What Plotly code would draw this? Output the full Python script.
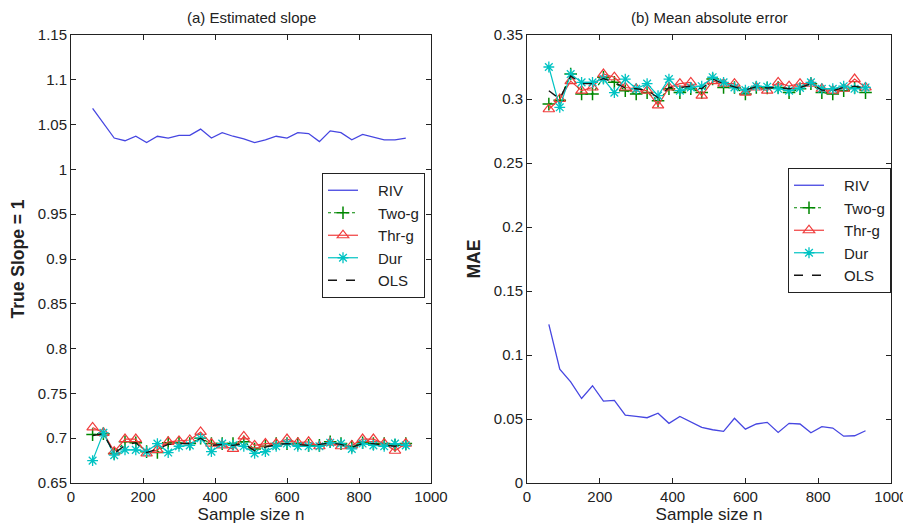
import plotly.graph_objects as go

n = [60, 90, 120, 150, 180, 210, 240, 270, 300, 330, 360, 390, 420, 450, 480,
     510, 540, 570, 600, 630, 660, 690, 720, 750, 780, 810, 840, 870, 900, 930]

# (a) Estimated slope
slope_riv = [1.068, 1.052, 1.035, 1.032, 1.037, 1.030, 1.037, 1.035, 1.038, 1.038,
             1.045, 1.035, 1.041, 1.037, 1.034, 1.030, 1.033, 1.037, 1.035, 1.041,
             1.040, 1.031, 1.043, 1.041, 1.033, 1.039, 1.036, 1.033, 1.033, 1.035]
slope_two = [0.704, 0.705, 0.683, 0.696, 0.695, 0.685, 0.684, 0.695, 0.695, 0.694,
             0.700, 0.694, 0.694, 0.694, 0.696, 0.688, 0.691, 0.694, 0.694, 0.694,
             0.692, 0.692, 0.696, 0.694, 0.691, 0.695, 0.694, 0.694, 0.692, 0.694]
slope_thr = [0.712, 0.706, 0.685, 0.699, 0.699, 0.683, 0.687, 0.696, 0.697, 0.698,
             0.707, 0.694, 0.692, 0.688, 0.702, 0.692, 0.694, 0.694, 0.699, 0.695,
             0.696, 0.691, 0.695, 0.691, 0.692, 0.699, 0.699, 0.694, 0.686, 0.694]
slope_dur = [0.675, 0.706, 0.681, 0.687, 0.687, 0.685, 0.694, 0.684, 0.691, 0.692,
             0.700, 0.685, 0.694, 0.692, 0.691, 0.683, 0.685, 0.691, 0.694, 0.691,
             0.691, 0.691, 0.695, 0.694, 0.688, 0.694, 0.692, 0.691, 0.694, 0.692]
slope_ols = [0.703, 0.705, 0.683, 0.692, 0.695, 0.684, 0.688, 0.693, 0.694, 0.694,
             0.700, 0.692, 0.693, 0.692, 0.694, 0.686, 0.690, 0.693, 0.694, 0.693,
             0.692, 0.693, 0.695, 0.693, 0.690, 0.694, 0.694, 0.692, 0.691, 0.693]

# (b) Mean absolute error
mae_riv = [0.124, 0.089, 0.079, 0.066, 0.076, 0.064, 0.0645, 0.053, 0.052, 0.051,
           0.0545, 0.0466, 0.052, 0.0474, 0.0434, 0.0416, 0.0403, 0.0506, 0.0421, 0.0461,
           0.0474, 0.0395, 0.0466, 0.0461, 0.0392, 0.044, 0.0429, 0.0366, 0.0369, 0.0408]
mae_two = [0.296, 0.299, 0.3195, 0.304, 0.304, 0.317, 0.313, 0.3065, 0.304, 0.305,
           0.2987, 0.308, 0.305, 0.308, 0.305, 0.3156, 0.309, 0.309, 0.304, 0.309,
           0.3086, 0.309, 0.305, 0.308, 0.312, 0.305, 0.304, 0.3065, 0.309, 0.305]
mae_thr = [0.292, 0.300, 0.314, 0.3065, 0.309, 0.3195, 0.317, 0.309, 0.308, 0.3065,
           0.295, 0.309, 0.312, 0.313, 0.3026, 0.314, 0.312, 0.312, 0.305, 0.309,
           0.3065, 0.313, 0.310, 0.312, 0.312, 0.308, 0.3065, 0.308, 0.3156, 0.309]
mae_dur = [0.325, 0.2935, 0.3195, 0.313, 0.313, 0.3156, 0.305, 0.3156, 0.308, 0.312,
           0.3026, 0.3156, 0.3065, 0.309, 0.310, 0.317, 0.313, 0.309, 0.307, 0.310,
           0.3096, 0.308, 0.3065, 0.3086, 0.313, 0.308, 0.308, 0.310, 0.308, 0.309]
mae_ols = [0.3065, 0.300, 0.318, 0.312, 0.312, 0.316, 0.313, 0.3086, 0.308, 0.307,
           0.301, 0.309, 0.309, 0.310, 0.308, 0.3156, 0.312, 0.3096, 0.307, 0.3096,
           0.3086, 0.309, 0.308, 0.309, 0.312, 0.307, 0.3065, 0.309, 0.310, 0.3086]

x_ticks = [0, 200, 400, 600, 800, 1000]
left_ticks = [0.65, 0.7, 0.75, 0.8, 0.85, 0.9, 0.95, 1, 1.05, 1.1, 1.15]
left_labels = ["0.65", "0.7", "0.75", "0.8", "0.85", "0.9", "0.95", "1", "1.05", "1.1", "1.15"]
right_ticks = [0, 0.05, 0.1, 0.15, 0.2, 0.25, 0.3, 0.35]
right_labels = ["0", "0.05", "0.1", "0.15", "0.2", "0.25", "0.3", "0.35"]

C_RIV = "rgb(70,70,225)"
C_TWO = "rgb(0,135,0)"
C_THR = "rgb(240,60,60)"
C_DUR = "rgb(0,195,195)"
C_OLS = "rgb(20,20,20)"

FONT = "Liberation Sans, Arial, sans-serif"
NARROW = "Liberation Sans Narrow, Arial Narrow, " + FONT
PAD = "\u2002\u2002"  # widens the gap after the legend line sample

# The page body has an 8px margin, so the figure is drawn 8px smaller and
# every target screen position is shifted by OFF.
OFF = 8
W, H = 911 - OFF, 527 - OFF
L, R, T, B = 71 - OFF, 911 - 891, 35 - OFF, 527 - 483
PW, PH = W - L - R, H - T - B


def px_x(x):
    return (x - OFF - L) / PW


def px_y(y):
    return (H - B - (y - OFF)) / PH


fig = go.Figure()


def add_set(xa, ya, legend, riv, two, thr, dur, ols):
    fig.add_trace(go.Scatter(x=n, y=riv, mode="lines", name=PAD + "RIV",
                             line=dict(color=C_RIV, width=1.3),
                             xaxis=xa, yaxis=ya, legend=legend))
    fig.add_trace(go.Scatter(x=n, y=two, mode="lines+markers", name=PAD + "Two-g",
                             line=dict(color=C_TWO, width=1.2, dash="dot"),
                             marker=dict(symbol="cross-thin-open", size=9,
                                         line=dict(color=C_TWO, width=1.5)),
                             xaxis=xa, yaxis=ya, legend=legend))
    fig.add_trace(go.Scatter(x=n, y=thr, mode="lines+markers", name=PAD + "Thr-g",
                             line=dict(color=C_THR, width=1.2),
                             marker=dict(symbol="triangle-up-open", size=10,
                                         color=C_THR, line=dict(color=C_THR, width=1.2)),
                             xaxis=xa, yaxis=ya, legend=legend))
    fig.add_trace(go.Scatter(x=n, y=dur, mode="lines+markers", name=PAD + "Dur",
                             line=dict(color=C_DUR, width=1.2),
                             marker=dict(symbol="asterisk-open", size=9,
                                         line=dict(color=C_DUR, width=1.3)),
                             xaxis=xa, yaxis=ya, legend=legend))
    fig.add_trace(go.Scatter(x=n, y=ols, mode="lines", name=PAD + "OLS",
                             line=dict(color=C_OLS, width=1.3, dash="dash"),
                             xaxis=xa, yaxis=ya, legend=legend))


add_set("x", "y", "legend", slope_riv, slope_two, slope_thr, slope_dur, slope_ols)
add_set("x2", "y2", "legend2", mae_riv, mae_two, mae_thr, mae_dur, mae_ols)

ax_common = dict(showline=True, linecolor="#222", linewidth=1, mirror="ticks",
                 ticks="inside", ticklen=5, tickcolor="#222", showgrid=False,
                 zeroline=False, automargin=False,
                 tickfont=dict(family=FONT, size=15, color="#222"))

legend_common = dict(xanchor="left", yanchor="top", bgcolor="white",
                     bordercolor="#222", borderwidth=1,
                     font=dict(family=FONT, size=15, color="#222"),
                     tracegroupgap=0)

fig.update_layout(
    width=W, height=H,
    margin=dict(l=L, r=R, t=T, b=B, autoexpand=False),
    paper_bgcolor="white", plot_bgcolor="white",
    font=dict(family=FONT, size=15, color="#222"),
    xaxis=dict(domain=[0, px_x(431)], range=[0, 1000], tickvals=x_ticks,
               title=dict(text="Sample size n", standoff=3, font=dict(size=17)),
               anchor="y", **ax_common),
    yaxis=dict(domain=[0, 1], range=[0.65, 1.15],
               tickvals=left_ticks, ticktext=left_labels,
               title=dict(text="<b>True Slope = 1</b>", standoff=8, font=dict(size=17.5)),
               anchor="x", **ax_common),
    xaxis2=dict(domain=[px_x(527), 1], range=[0, 1000], tickvals=x_ticks,
                title=dict(text="Sample size n", standoff=3, font=dict(size=17)),
                anchor="y2", **ax_common),
    yaxis2=dict(domain=[0, 1], range=[0, 0.35],
                tickvals=right_ticks, ticktext=right_labels,
                title=dict(text="<b>MAE</b>", standoff=8, font=dict(size=17.5)),
                anchor="x2", **ax_common),
    legend=dict(x=px_x(322), y=px_y(173), **legend_common),
    legend2=dict(x=px_x(788), y=px_y(168), **legend_common),
    showlegend=True,
)

fig.add_annotation(text="(a) Estimated slope", x=px_x(251), y=px_y(OFF),
                   xref="paper", yref="paper", showarrow=False,
                   xanchor="center", yanchor="top", borderpad=0,
                   font=dict(family=NARROW, size=15, color="#222"))
fig.add_annotation(text="(b) Mean absolute error", x=px_x(709), y=px_y(OFF),
                   xref="paper", yref="paper", showarrow=False,
                   xanchor="center", yanchor="top", borderpad=0,
                   font=dict(family=NARROW, size=15, color="#222"))

fig.write_html("out.html")
